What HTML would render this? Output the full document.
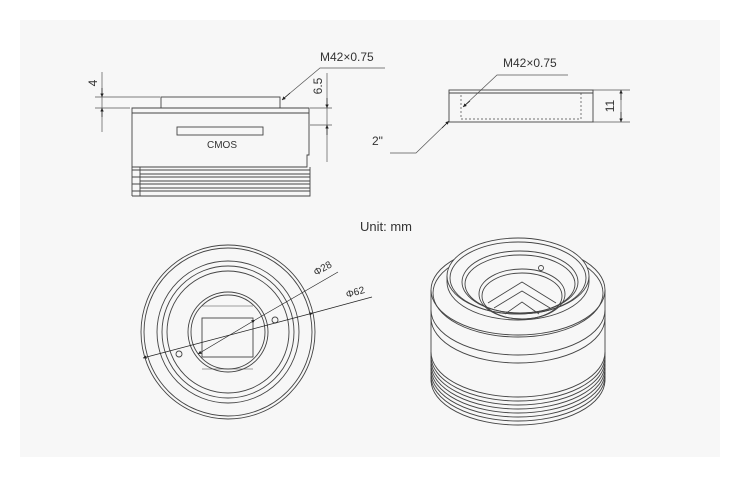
<!DOCTYPE html>
<html><head><meta charset="utf-8"><style>
html,body{margin:0;padding:0;background:#fff;}
svg{display:block;}
text{font-family:"Liberation Sans",sans-serif;fill:#333;}
</style></head><body>
<svg width="740" height="477" viewBox="0 0 740 477" xmlns="http://www.w3.org/2000/svg">
<defs>
<marker id="a" viewBox="0 0 10 10" refX="10" refY="5" markerWidth="7" markerHeight="5" orient="auto-start-reverse"><path d="M0,0L10,5L0,10z" fill="#222"/></marker>
</defs>
<rect x="20" y="20" width="700" height="437" fill="#f7f7f7"/>
<g fill="none" stroke="#444" stroke-width="0.9">
<!-- side view -->
<rect x="161" y="97" width="119" height="11"/>
<path d="M132,108H309V155H307V167H132Z"/>
<line x1="132" y1="113" x2="309" y2="113"/>
<rect x="177" y="127" width="86" height="8"/>
<path d="M140,167V196H310V167"/>
<line x1="132" y1="170" x2="310" y2="170"/>
<line x1="140" y1="174" x2="310" y2="174"/>
<line x1="132" y1="177" x2="310" y2="177"/>
<line x1="140" y1="181" x2="310" y2="181"/>
<line x1="132" y1="184" x2="310" y2="184"/>
<line x1="140" y1="188" x2="310" y2="188"/>
<line x1="132" y1="191" x2="310" y2="191"/>
<line x1="132" y1="196" x2="310" y2="196"/>
<line x1="132" y1="167" x2="132" y2="196"/>
<!-- dims -->
<g stroke="#555" stroke-width="0.7">
<line x1="95" y1="97" x2="160" y2="97"/>
<line x1="95" y1="108" x2="130" y2="108"/>
<line x1="102" y1="72" x2="102" y2="132"/>
<line x1="310" y1="108" x2="332" y2="108"/>
<line x1="310" y1="125" x2="332" y2="125"/>
<line x1="327" y1="73" x2="327" y2="162"/>
<polyline points="385,68 320,68 283,99"/>
<polyline points="568,75 497,75 464,106"/>
<polyline points="390,153 416,153 448,122"/>
<line x1="593" y1="90" x2="630" y2="90"/>
<line x1="593" y1="122" x2="630" y2="122"/>
<line x1="621" y1="90" x2="621" y2="122"/>
</g>
<g stroke="#222" stroke-width="0.7">
<line x1="102" y1="88" x2="102" y2="97" marker-end="url(#a)"/>
<line x1="102" y1="117" x2="102" y2="108" marker-end="url(#a)"/>
<line x1="327" y1="98" x2="327" y2="108" marker-end="url(#a)"/>
<line x1="327" y1="135" x2="327" y2="125" marker-end="url(#a)"/>
<line x1="290" y1="93" x2="282" y2="100" marker-end="url(#a)"/>
<line x1="470" y1="101" x2="463" y2="107" marker-end="url(#a)"/>
<line x1="442" y1="128" x2="449" y2="121" marker-end="url(#a)"/>
<line x1="621" y1="100" x2="621" y2="90" marker-end="url(#a)"/>
<line x1="621" y1="112" x2="621" y2="122" marker-end="url(#a)"/>
</g>
<!-- adapter -->
<rect x="449" y="90" width="144" height="32"/>
<line x1="449" y1="93" x2="593" y2="93"/>
<rect x="461" y="93" width="120" height="26" stroke-dasharray="2,2" stroke-width="0.7"/>
<!-- front circle -->
<circle cx="228" cy="332" r="87"/>
<circle cx="228" cy="332" r="84"/>
<circle cx="228" cy="332" r="71"/>
<circle cx="228" cy="332" r="66"/>
<circle cx="228" cy="332" r="61"/>
<circle cx="228" cy="332" r="40"/>
<circle cx="228" cy="332" r="37"/>
<rect x="202" y="318" width="51" height="39"/>
<path d="M202,306H253M202,369H253" stroke-width="0.6"/>
<circle cx="275" cy="320" r="3"/>
<circle cx="179" cy="354" r="3"/>
<g stroke="#222" stroke-width="0.7">
<line x1="143" y1="358" x2="313" y2="313" marker-end="url(#a)" marker-start="url(#a)"/>
<line x1="313" y1="313" x2="372" y2="297"/>
<line x1="198" y1="354" x2="255" y2="320" marker-end="url(#a)" marker-start="url(#a)"/>
<line x1="255" y1="320" x2="338" y2="272"/>
</g>
<!-- iso -->
<path d="M431,290V380A87,45 0 0 0 605,380V290"/>
<ellipse cx="518" cy="290" rx="87" ry="45"/>
<ellipse cx="518" cy="293" rx="85" ry="44"/>
<path d="M431,310A87,45 0 0 0 605,310"/>
<path d="M431,318A87,45 0 0 0 605,318"/>
<path d="M431,352A87,45 0 0 0 605,352"/>
<path d="M431,356A87,45 0 0 0 605,356"/>
<path d="M431,360A87,45 0 0 0 605,360"/>
<path d="M431,364A87,45 0 0 0 605,364"/>
<path d="M431,368A87,45 0 0 0 605,368"/>
<path d="M431,372A87,45 0 0 0 605,372"/>
<path d="M431,376A87,45 0 0 0 605,376"/>
<path d="M447,276V282A71,38 0 0 0 589,282V276" fill="#f7f7f7"/>
<ellipse cx="518" cy="276" rx="71" ry="38" fill="#f7f7f7"/>
<ellipse cx="518" cy="278" rx="68" ry="36"/>
<ellipse cx="520" cy="282" rx="58" ry="31"/>
<ellipse cx="520" cy="284" rx="55" ry="29"/>
<ellipse cx="522" cy="294" rx="43" ry="25"/>
<ellipse cx="522" cy="296" rx="40" ry="23"/>
<polyline points="488,303 522,282 556,303"/>
<polyline points="494,308 522,291 550,308"/>
<polyline points="505,314 522,302 539,314"/>
<circle cx="541" cy="268" r="2.5"/>
</g>
<g font-size="12">
<text x="320" y="61">M42×0.75</text>
<text x="503" y="67">M42×0.75</text>
<text x="372" y="145">2"</text>
<text x="360" y="231" font-size="13">Unit: mm</text>
<text x="207" y="148" font-size="10">CMOS</text>
<text transform="translate(97,83) rotate(-90)" text-anchor="middle">4</text>
<text transform="translate(322,86) rotate(-90)" text-anchor="middle">6.5</text>
<text transform="translate(614,106) rotate(-90)" text-anchor="middle">11</text>
<text transform="translate(316,276) rotate(-30)" font-size="10">Φ28</text>
<text transform="translate(347,298) rotate(-16)" font-size="10">Φ62</text>
</g>
</svg>
</body></html>
